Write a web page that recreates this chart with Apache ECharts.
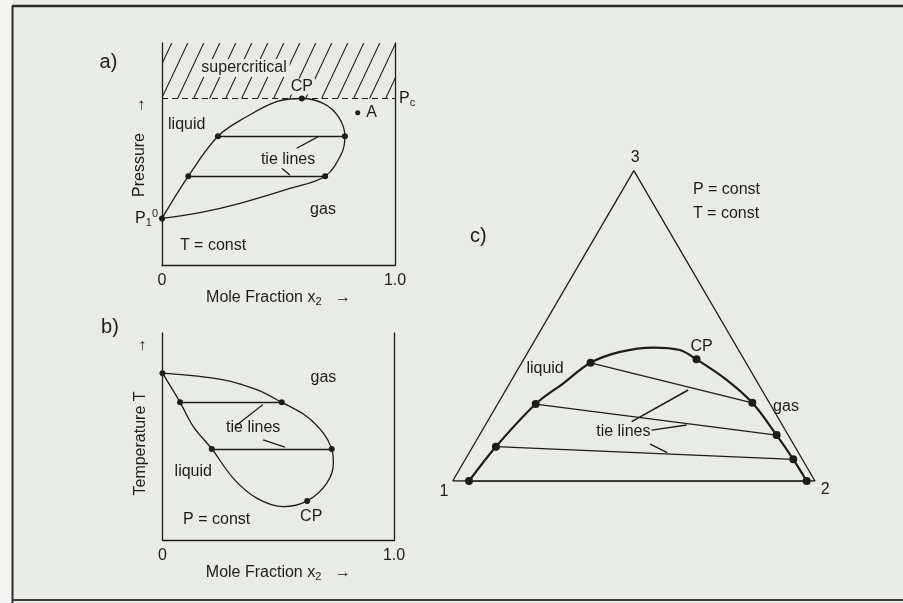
<!DOCTYPE html>
<html>
<head>
<meta charset="utf-8">
<title>Phase diagrams</title>
<script src="https://cdn.jsdelivr.net/npm/echarts@6/dist/echarts.min.js"></script>
<style>
html, body { margin: 0; padding: 0; background: #e9ebe6; }
#chart { width: 903px; height: 603px; }
</style>
</head>
<body>
<div id="chart"></div>
<script>
const INK = '#1c1c1c';
const PAPER = '#e9ebe6';
const FONT = '"Liberation Sans", Arial, Helvetica, sans-serif';

// ---- a) pressure vs. mole fraction, T = const ----
const liquidA = [[0, 0.21], [0.113, 0.40], [0.24, 0.58], [0.363, 0.668], [0.492, 0.736], [0.60, 0.75]];
const gasA = [[0.60, 0.75], [0.692, 0.728], [0.757, 0.668], [0.785, 0.58], [0.771, 0.503],
  [0.70, 0.40], [0.549, 0.345], [0.335, 0.278], [0.163, 0.236], [0, 0.21]];
const tieA = [[[0.113, 0.40], [0.70, 0.40]], [[0.24, 0.58], [0.785, 0.58]]];
const critA = [0.60, 0.75];
const p1A = [0, 0.21];
const pointA = [0.84, 0.686];
const pcA = 0.75;

// ---- b) temperature vs. mole fraction, P = const ----
const liquidB = [[0, 0.806], [0.076, 0.665], [0.133, 0.548], [0.213, 0.44], [0.306, 0.298],
  [0.407, 0.202], [0.522, 0.161], [0.625, 0.189]];
const gasB = [[0.625, 0.189], [0.709, 0.274], [0.738, 0.371], [0.731, 0.44], [0.695, 0.516],
  [0.623, 0.597], [0.515, 0.665], [0.407, 0.726], [0.263, 0.774], [0, 0.806]];
const tieB = [[[0.076, 0.665], [0.515, 0.665]], [[0.213, 0.44], [0.731, 0.44]]];
const critB = [0.625, 0.189];
const t1B = [0, 0.806];

// ---- c) ternary diagram, compositions as [x2, x3] (x1 = 1 - x2 - x3) ----
const cornersC = [[0, 0], [1, 0], [0, 1], [0, 0]];
const binodalC = [[0.045, 0], [0.064, 0.1105], [0.105, 0.248], [0.148, 0.315], [0.19, 0.381],
  [0.254, 0.416], [0.339, 0.430], [0.416, 0.422], [0.477, 0.392], [0.593, 0.326],
  [0.701, 0.252], [0.82, 0.148], [0.905, 0.070], [0.977, 0]];
const tieC = [[[0.19, 0.381], [0.701, 0.252]], [[0.105, 0.248], [0.82, 0.148]],
  [[0.064, 0.1105], [0.905, 0.070]], [[0.045, 0], [0.977, 0]]];
const critC = [0.477, 0.392];

const tickX = ['0', '1.0'];

// annotation anchors (axis units of each panel)
const labelsA = [['a)', -0.23, 0.91], ['supercritical', 0.352, 0.887], ['liquid', 0.106, 0.631],
  ['tie lines', 0.541, 0.473], ['gas', 0.691, 0.248], ['T = const', 0.219, 0.086]];
const leadersA = [[[0.578, 0.526], [0.671, 0.578]], [[0.514, 0.436], [0.549, 0.405]]];
const labelsB = [['b)', -0.227, 1.026], ['gas', 0.695, 0.784], ['tie lines', 0.392, 0.542],
  ['liquid', 0.133, 0.330], ['P = const', 0.234, 0.097]];
const leadersB = [[[0.321, 0.556], [0.433, 0.653]], [[0.435, 0.484], [0.529, 0.449]]];
const labelsC = [['3', 0.504, 0.902], ['1', -0.024, -0.030], ['2', 1.028, -0.023], ['c)', 0.071, 0.682],
  ['liquid', 0.255, 0.3145], ['CP', 0.687, 0.375], ['gas', 0.92, 0.209], ['tie lines', 0.471, 0.1376],
  ['P = const', 0.663, 0.814], ['T = const', 0.663, 0.745]];
const leadersC = [[[0.494, 0.1655], [0.650, 0.254]], [[0.549, 0.142], [0.646, 0.156]],
  [[0.545, 0.103], [0.592, 0.079]]];

const H = Math.sqrt(3) / 2;
const tern = p => [p[0] + p[1] / 2, p[1] * H];

// diagonal hatch tile
const hatch = document.createElement('canvas');
hatch.width = 16; hatch.height = 34;
(function () {
  const g = hatch.getContext('2d');
  g.strokeStyle = INK;
  g.lineWidth = 1.1;
  [-16, 0, 16].forEach(o => {
    g.beginPath();
    g.moveTo(o, 34);
    g.lineTo(o + 16, 0);
    g.stroke();
  });
})();

const txt = { color: INK, fontSize: 16, fontFamily: FONT, textBorderWidth: 0, textShadowBlur: 0 };
const subRich = {
  m: { fontSize: 16, lineHeight: 20, color: INK, fontFamily: FONT },
  s: { fontSize: 11, lineHeight: 11, verticalAlign: 'bottom', color: INK, fontFamily: FONT },
  t: { fontSize: 11, lineHeight: 11, verticalAlign: 'top', color: INK, fontFamily: FONT },
  g1: { width: 14 }, g2: { width: 20 }, g3: { width: 40 }, g4: { width: 38 }
};

function curve(data, xi, yi, width) {
  return {
    type: 'line', xAxisIndex: xi, yAxisIndex: yi, data: data, smooth: 0.35,
    symbol: 'none', silent: true, z: 3, lineStyle: { color: INK, width: width }
  };
}
function segs(list, xi, yi, width) {
  return {
    type: 'lines', coordinateSystem: 'cartesian2d', xAxisIndex: xi, yAxisIndex: yi, silent: true, z: 3,
    data: list.map(c => ({ coords: c })), lineStyle: { color: INK, width: width, opacity: 1 }
  };
}
function dots(pts, xi, yi, size) {
  return {
    type: 'scatter', xAxisIndex: xi, yAxisIndex: yi, data: pts, symbolSize: size,
    itemStyle: { color: INK, opacity: 1 }, clip: false, silent: true, z: 4
  };
}
function notes(list, xi, yi) {
  return {
    type: 'scatter', xAxisIndex: xi, yAxisIndex: yi, symbolSize: 0, clip: false, silent: true, z: 6,
    itemStyle: { color: INK, opacity: 1 },
    data: list.map(n => {
      const item = { name: n[0], value: [n[1], n[2]] };
      if (/\)$/.test(n[0])) item.label = { fontSize: 20 };
      if (n[0] === 'supercritical') item.label = { backgroundColor: PAPER, padding: [1, 3] };
      if (/const/.test(n[0]) && xi === 2) item.label = { align: 'left' };
      return item;
    }),
    label: Object.assign({ show: true, position: 'inside', formatter: '{b}' }, txt)
  };
}

function xAxisFor(gi) {
  return {
    gridIndex: gi, type: 'value', min: 0, max: 1, interval: 1,
    axisLine: { show: true, onZero: false, lineStyle: { color: INK, width: 1.3 } },
    axisTick: { show: false }, splitLine: { show: false },
    axisLabel: Object.assign({ margin: 8, showMinLabel: true, showMaxLabel: true,
      formatter: v => (v === 0 ? tickX[0] : tickX[1]) }, txt),
    name: '{m|Mole Fraction x}{s|2}{m|   \u2192}', nameLocation: 'middle', nameGap: 19,
    nameTextStyle: { rich: subRich }
  };
}
function yAxisFor(gi, name) {
  return {
    gridIndex: gi, type: 'value', min: 0, max: 1,
    axisLine: { show: true, onZero: false, lineStyle: { color: INK, width: 1.3 } },
    axisTick: { show: false }, splitLine: { show: false }, axisLabel: { show: false },
    name: name, nameLocation: 'middle', nameGap: 12, nameTextStyle: { rich: subRich }
  };
}
function rightAxisFor(gi) {
  return {
    gridIndex: gi, type: 'value', min: 0, max: 1, position: 'right',
    axisLine: { show: true, onZero: false, lineStyle: { color: INK, width: 1.3 } },
    axisTick: { show: false }, splitLine: { show: false }, axisLabel: { show: false }
  };
}

const chart = echarts.init(document.getElementById('chart'), null, { renderer: 'canvas' });

const domeA = curve(liquidA.concat(gasA.slice(1)), 0, 0, 1.3);
domeA.markArea = {
  silent: true, z: 1,
  itemStyle: { color: { image: hatch, repeat: 'repeat' }, opacity: 1 },
  data: [[{ coord: [0, pcA] }, { coord: [1, 1] }]]
};
domeA.markLine = {
  silent: true, symbol: 'none',
  lineStyle: { color: INK, width: 1, type: [6, 4], opacity: 1 },
  label: { position: 'end', distance: 4, formatter: '{m|P}{s|c}', rich: subRich },
  data: [[{ coord: [0, pcA] }, { coord: [1, pcA] }]]
};

const cpA = dots([critA], 0, 0, 6);
cpA.label = Object.assign({ show: true, position: 'top', distance: 1, formatter: 'CP',
  backgroundColor: PAPER, padding: [0, 2] }, txt);
cpA.z = 6;

const stA = dots([pointA], 0, 0, 5);
stA.label = Object.assign({ show: true, position: 'right', distance: 6, formatter: 'A' }, txt);

const p1 = dots([p1A], 0, 0, 6);
p1.label = { show: true, position: 'left', distance: 1, formatter: '{m|P}{s|1}{t|0}', rich: subRich };

const cpB = dots([critB], 1, 2, 6);
cpB.label = Object.assign({ show: true, position: 'bottom', distance: 5, formatter: 'CP', offset: [4, 0] }, txt);

chart.setOption({
  backgroundColor: PAPER,
  animation: false,
  grid: [
    { left: 162, top: 43, width: 233, height: 222 },
    { left: 162.5, top: 333, width: 231.5, height: 207 },
    { left: 452.7, top: 170.7, width: 362.3, height: 310.3 }
  ],
  xAxis: [
    xAxisFor(0),
    xAxisFor(1),
    { gridIndex: 2, type: 'value', min: 0, max: 1, show: false }
  ],
  yAxis: [
    yAxisFor(0, '{g1|}{m|Pressure}{g2|}{m|\u2192}'),
    rightAxisFor(0),
    yAxisFor(1, '{g3|}{m|Temperature T}{g4|}{m|\u2192}'),
    rightAxisFor(1),
    { gridIndex: 2, type: 'value', min: 0, max: H, show: false }
  ],
  graphic: [
    { type: 'rect', shape: { x: 0, y: 0, width: 12, height: 603 }, style: { fill: '#f4f5f2' }, silent: true },
    { type: 'line', shape: { x1: 12, y1: 6, x2: 903, y2: 6 }, style: { stroke: '#2b2b2b', lineWidth: 2.5 }, silent: true },
    { type: 'line', shape: { x1: 12.5, y1: 6, x2: 12.5, y2: 603 }, style: { stroke: '#2b2b2b', lineWidth: 2 }, silent: true },
    { type: 'line', shape: { x1: 12, y1: 600, x2: 903, y2: 600 }, style: { stroke: '#3a3a3a', lineWidth: 2 }, silent: true }
  ],
  series: [
    // a)
    domeA,
    segs(tieA, 0, 0, 1.3),
    segs(leadersA, 0, 0, 1.3),
    dots([tieA[0][0], tieA[0][1], tieA[1][0], tieA[1][1]], 0, 0, 6),
    cpA, stA, p1,
    notes(labelsA, 0, 0),
    // b)
    curve(liquidB.concat(gasB.slice(1)), 1, 2, 1.3),
    segs(tieB, 1, 2, 1.3),
    segs(leadersB, 1, 2, 1.3),
    dots([t1B, tieB[0][0], tieB[0][1], tieB[1][0], tieB[1][1]], 1, 2, 6),
    cpB,
    notes(labelsB, 1, 2),
    // c)
    {
      type: 'line', xAxisIndex: 2, yAxisIndex: 4, data: cornersC.map(tern), symbol: 'none',
      silent: true, z: 2, lineStyle: { color: INK, width: 1.3 }
    },
    curve(binodalC.map(tern), 2, 4, 2.2),
    segs(tieC.map(t => t.map(tern)), 2, 4, 1.3),
    segs(leadersC, 2, 4, 1.5),
    dots(tieC.flat().concat([critC]).map(tern), 2, 4, 8),
    notes(labelsC, 2, 4)
  ]
});
</script>
</body>
</html>
